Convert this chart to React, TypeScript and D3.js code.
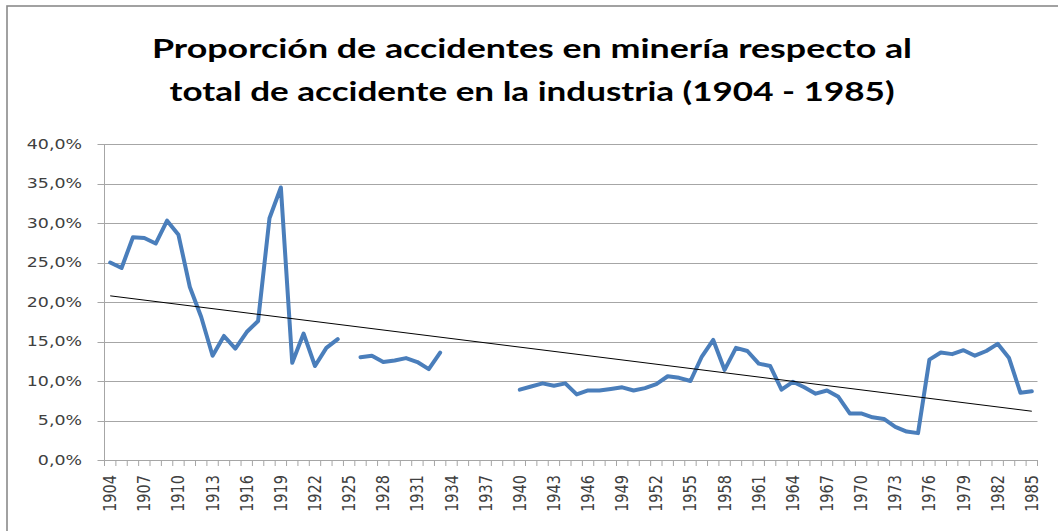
import React from 'react';
import * as d3 from 'd3';

// años 1904..1985 (categorías del eje)
const years: number[] = d3.range(1904, 1986);

// proporción (%) de accidentes en minería; null = año sin dato
const shares: (number | null)[] = [
  25.0, 24.3, 28.2, 28.1, 27.4, 30.3, 28.5, 21.9, 18.1, 13.2,
  15.7, 14.1, 16.2, 17.6, 30.6, 34.5, 12.3, 16.0, 11.9, 14.2,
  15.3, null, 13.0, 13.2, 12.4, 12.6, 12.9, 12.4, 11.5, 13.6,
  null, null, null, null, null, null,
  8.9, 9.3, 9.7, 9.4, 9.7, 8.3, 8.8, 8.8, 9.0, 9.2,
  8.8, 9.1, 9.6, 10.6, 10.4, 10.0, 13.1, 15.2, 11.4, 14.2,
  13.8, 12.2, 11.9, 8.9, 9.9, 9.2, 8.4, 8.8, 8.0, 5.9,
  5.9, 5.4, 5.2, 4.2, 3.6, 3.4, 12.7, 13.6, 13.4, 13.9,
  13.2, 13.8, 14.7, 12.9, 8.5, 8.7,
];

const yTicks: number[] = [0, 5, 10, 15, 20, 25, 30, 35, 40];
const titleLines: string[] = [
  'Proporción de accidentes en minería respecto al',
  'total de accidente en la industria (1904 - 1985)',
];

const W = 1058;
const H = 531;
const margin = { left: 104.5, right: 20.5, top: 144, bottom: 71 };

export default function App() {
  const x = d3.scaleBand<number>()
    .domain(years)
    .range([margin.left, W - margin.right])
    .paddingInner(0)
    .paddingOuter(0);

  const y = d3.scaleLinear()
    .domain([0, 40])
    .range([H - margin.bottom, margin.top]);

  const cx = (yr: number) => (x(yr) as number) + x.bandwidth() / 2;

  const pts = years.map((yr, i) => ({ yr, i, v: shares[i] }));

  const line = d3.line<typeof pts[number]>()
    .defined(d => d.v !== null)
    .x(d => cx(d.yr))
    .y(d => y(d.v as number));

  // línea de tendencia lineal (mínimos cuadrados sobre el índice)
  const known = pts.filter(d => d.v !== null);
  const mx = d3.mean(known, d => d.i + 1) as number;
  const my = d3.mean(known, d => d.v as number) as number;
  const slope = d3.sum(known, d => (d.i + 1 - mx) * ((d.v as number) - my)) /
    d3.sum(known, d => (d.i + 1 - mx) ** 2);
  const icpt = my - slope * mx;
  const trend = (i: number) => icpt + slope * (i + 1);

  const fmt = (v: number) => d3.format('.1f')(v).replace('.', ',') + '%';
  const y0 = y(0);
  const xr = W - margin.right;

  return (
    <svg width={W} height={H} style={{ position: 'absolute', left: 0, top: 0, background: '#fff' }}
      fontFamily="DejaVu Sans">
      <rect x={7} y={6} width={W + 20} height={H + 20} fill="#fff" stroke="#8a8a8a" strokeWidth={1.6} />

      {titleLines.map((t, i) => (
        <text key={t} x={532} y={58 + i * 43} textAnchor="middle" fontFamily="Lato" fontWeight="bold"
          fontSize={26} fill="#000" textLength={i === 0 ? 760 : 725} lengthAdjust="spacingAndGlyphs">{t}</text>
      ))}

      {yTicks.map(t => (
        <g key={t}>
          <line x1={margin.left} x2={xr} y1={Math.round(y(t)) + 0.5} y2={Math.round(y(t)) + 0.5}
            stroke="#a6a6a6" strokeWidth={1} />
          <line x1={margin.left - 7} x2={margin.left} y1={Math.round(y(t)) + 0.5} y2={Math.round(y(t)) + 0.5}
            stroke="#a6a6a6" strokeWidth={1} />
          <text transform={`translate(82,${y(t)}) scale(1.2,1)`} textAnchor="end" dominantBaseline="central"
            fontSize={14.5} fill="#404040">{fmt(t)}</text>
        </g>
      ))}

      <line x1={margin.left} x2={margin.left} y1={margin.top} y2={y0} stroke="#a6a6a6" strokeWidth={1} />
      <line x1={margin.left} x2={xr} y1={Math.round(y0) + 0.5} y2={Math.round(y0) + 0.5} stroke="#a6a6a6" strokeWidth={1} />

      {years.concat([1986]).map(yr => {
        const px = yr === 1986 ? xr : (x(yr) as number);
        return <line key={yr} x1={px} x2={px} y1={y0} y2={y0 + 6} stroke="#a6a6a6" strokeWidth={1} />;
      })}

      {years.filter((_, i) => i % 3 === 0).map(yr => (
        <text key={yr} transform={`translate(${cx(yr)},${y0 + 15}) rotate(-90) scale(1,1.2)`}
          textAnchor="end" dominantBaseline="central" fontSize={14.5} fill="#404040">{yr}</text>
      ))}

      <path d={line(pts) ?? ''} fill="none" stroke="#4a7ebb" strokeWidth={4}
        strokeLinejoin="round" strokeLinecap="round" />

      <line x1={cx(years[0])} x2={cx(years[years.length - 1])}
        y1={y(trend(0))} y2={y(trend(years.length - 1))} stroke="#000" strokeWidth={1} />
    </svg>
  );
}
